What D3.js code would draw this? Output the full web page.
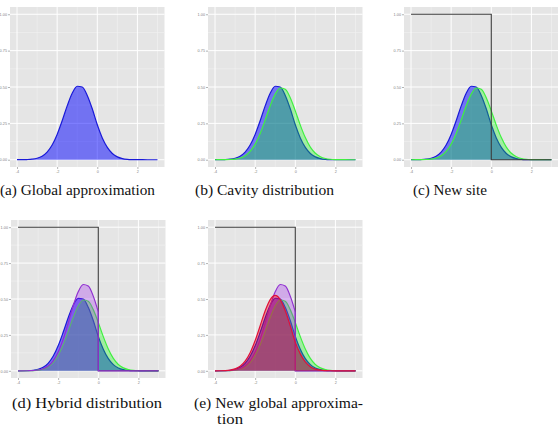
<!DOCTYPE html>
<html><head><meta charset="utf-8">
<script src="https://cdn.jsdelivr.net/npm/d3@7"></script>
<style>html,body{margin:0;padding:0;background:#fff;}svg{display:block;}</style>
</head><body>
<svg id="chart" width="558" height="441"></svg>
<script>
// ---- data ----
const xGrid = [-4,-3.75,-3.5,-3.25,-3,-2.75,-2.5,-2.25,-2,-1.75,-1.5,-1.25,-1,-0.75,-0.5,-0.25,0,0.25,0.5,0.75,1,1.25,1.5,1.75,2,2.25,2.5,2.75,3];
const globalApprox = [0.0001,0.0004,0.0013,0.0038,0.0101,0.0243,0.0524,0.1009,0.174,0.268,0.370,0.457,0.505,0.500,0.442,0.350,0.240,0.150,0.0850,0.0430,0.0195,0.0080,0.0029,0.0010,0.0003,0.0001,0,0,0];
const cavity = [0,0.0001,0.0005,0.0016,0.0045,0.0117,0.0273,0.0571,0.107,0.181,0.273,0.371,0.451,0.493,0.484,0.426,0.336,0.238,0.152,0.0866,0.0443,0.0204,0.0084,0.0031,0.0010,0.0003,0.0001,0,0];
const hybridX = [-4,-3.75,-3.5,-3.25,-3,-2.75,-2.5,-2.25,-2,-1.75,-1.5,-1.25,-1,-0.75,-0.5,-0.25,0];
const hybrid = [0,0.0001,0.0006,0.002,0.0055,0.0143,0.0333,0.0697,0.131,0.221,0.333,0.453,0.550,0.601,0.590,0.520,0.410];
const siteX = [-4,0,0,3];
const siteY = [1,1,0,0];
const newGlobal = [0.0001,0.0005,0.0017,0.0052,0.0136,0.0320,0.0673,0.126,0.211,0.314,0.418,0.496,0.525,0.496,0.418,0.314,0.200,0.118,0.0620,0.0290,0.0120,0.0045,0.0015,0.0004,0.0001,0,0,0,0];
const xTicks = [-4,-2,0,2];
const xTickLabels = ["-4","-2","0","2"];
const xMinor = [-3,-1,1,3];
const yTicks = [0,0.25,0.5,0.75,1];
const yTickLabels = ["0.00","0.25","0.50","0.75","1.00"];
const yMinor = [0.125,0.375,0.625,0.875];
const captionLines = [
  ["(a) Global approximation"],
  ["(b) Cavity distribution"],
  ["(c) New site"],
  ["(d) Hybrid distribution"],
  ["(e) New global approxima-","tion"]
];
const panelLayers = [
  ["global"],
  ["global","cavity"],
  ["global","cavity","site"],
  ["global","cavity","site","hybrid"],
  ["global","cavity","site","hybrid","newglobal"]
];

// ---- layout ----
const panels = [
  {x0:10, x1:164.5, y0:7, y1:167},
  {x0:208, x1:362.5, y0:7, y1:167},
  {x0:404, x1:558.5, y0:7, y1:167},
  {x0:11, x1:165.5, y0:220, y1:378},
  {x0:208, x1:362.5, y0:220, y1:378}
];
const captionPos = [
  {x:0, y:195, w:[155]},
  {x:195, y:195, w:[139]},
  {x:413, y:195, w:[74]},
  {x:12, y:408, w:[150]},
  {x:194, y:408, w:[169,26], x2:217, dy:16}
];
const styles = {
  global:   {fill:"#0000ff", fo:0.5,  stroke:"#1a1ad8"},
  cavity:   {fill:"#00ff00", fo:0.3,  stroke:"#40f040"},
  hybrid:   {fill:"#a020f0", fo:0.3,  stroke:"#9030d0"},
  newglobal:{fill:"#ff0000", fo:0.38, stroke:"#e0103a"}
};

const svg = d3.select("#chart");
const defs = svg.append("defs");

panels.forEach((p, i) => {
  const x = d3.scaleLinear().domain([-4.35, 3.35]).range([p.x0, p.x1]);
  const y = d3.scaleLinear().domain([-0.05, 1.05]).range([p.y1, p.y0]);
  const g = svg.append("g");
  defs.append("clipPath").attr("id", "clip" + i).append("rect")
    .attr("x", p.x0).attr("y", p.y0).attr("width", p.x1 - p.x0).attr("height", p.y1 - p.y0);
  g.append("rect").attr("x", p.x0).attr("y", p.y0).attr("width", p.x1 - p.x0).attr("height", p.y1 - p.y0)
    .attr("fill", "#e5e5e5");
  g.selectAll(".mx").data(xMinor).enter().append("line")
    .attr("x1", d => x(d)).attr("x2", d => x(d)).attr("y1", p.y0).attr("y2", p.y1)
    .attr("stroke", "#f2f2f2").attr("stroke-width", 0.6);
  g.selectAll(".my").data(yMinor).enter().append("line")
    .attr("y1", d => y(d)).attr("y2", d => y(d)).attr("x1", p.x0).attr("x2", p.x1)
    .attr("stroke", "#f2f2f2").attr("stroke-width", 0.6);
  g.selectAll(".gx").data(xTicks).enter().append("line")
    .attr("x1", d => x(d)).attr("x2", d => x(d)).attr("y1", p.y0).attr("y2", p.y1)
    .attr("stroke", "#ffffff").attr("stroke-width", 1);
  g.selectAll(".gy").data(yTicks).enter().append("line")
    .attr("y1", d => y(d)).attr("y2", d => y(d)).attr("x1", p.x0).attr("x2", p.x1)
    .attr("stroke", "#ffffff").attr("stroke-width", 1);
  const ax = d3.axisBottom(x).tickValues(xTicks).tickFormat((d, k) => xTickLabels[k]).tickSize(2).tickPadding(1);
  const axG = g.append("g").attr("transform", `translate(0,${p.y1})`).call(ax);
  const ay = d3.axisLeft(y).tickValues(yTicks).tickFormat((d, k) => yTickLabels[k]).tickSize(2).tickPadding(1);
  const ayG = g.append("g").attr("transform", `translate(${p.x0},0)`).call(ay);
  [axG, ayG].forEach(a => {
    a.select(".domain").remove();
    a.selectAll("line").attr("stroke", "#7f7f7f").attr("stroke-width", 0.6);
    a.selectAll("text").attr("fill", "#7f7f7f").style("font-size", "3.8px").style("font-family", "Liberation Sans, Arial, sans-serif");
  });

  const plot = g.append("g").attr("clip-path", `url(#clip${i})`);
  const area = d3.area().x(d => x(d[0])).y0(y(0)).y1(d => y(d[1])).curve(d3.curveMonotoneX);
  const line = d3.line().x(d => x(d[0])).y(d => y(d[1])).curve(d3.curveMonotoneX);
  const lin = d3.line().x(d => x(d[0])).y(d => y(d[1]));

  panelLayers[i].forEach(layer => {
    if (layer === "site") {
      const pts = siteX.map((v, k) => [v, siteY[k]]);
      plot.append("path").attr("d", lin(pts)).attr("fill", "none")
        .attr("stroke", "#3a3a3a").attr("stroke-width", 1.1);
      return;
    }
    const s = styles[layer];
    let pts, tail = null;
    if (layer === "hybrid") {
      pts = hybridX.map((v, k) => [v, hybrid[k]]);
      const lx = hybridX[hybridX.length - 1];
      tail = [[lx, hybrid[hybrid.length - 1]], [lx, 0], [xGrid[xGrid.length - 1], 0]];
    } else {
      const vals = layer === "global" ? globalApprox : layer === "cavity" ? cavity : newGlobal;
      pts = xGrid.map((v, k) => [v, vals[k]]);
    }
    plot.append("path").attr("d", area(pts)).attr("fill", s.fill).attr("fill-opacity", s.fo);
    plot.append("path").attr("d", line(pts)).attr("fill", "none").attr("stroke", s.stroke).attr("stroke-width", 1.2);
    if (tail) plot.append("path").attr("d", lin(tail)).attr("fill", "none").attr("stroke", s.stroke).attr("stroke-width", 1.2);
  });
});

captionLines.forEach((lines, i) => {
  const c = captionPos[i];
  lines.forEach((t, k) => {
    svg.append("text").attr("x", k === 0 ? c.x : c.x2).attr("y", c.y + k * (c.dy || 0))
      .attr("textLength", c.w[k]).attr("lengthAdjust", "spacingAndGlyphs")
      .style("font-family", "'Liberation Serif', 'DejaVu Serif', serif").style("font-size", "14px")
      .attr("fill", "#111").text(t);
  });
});
</script>
</body></html>
